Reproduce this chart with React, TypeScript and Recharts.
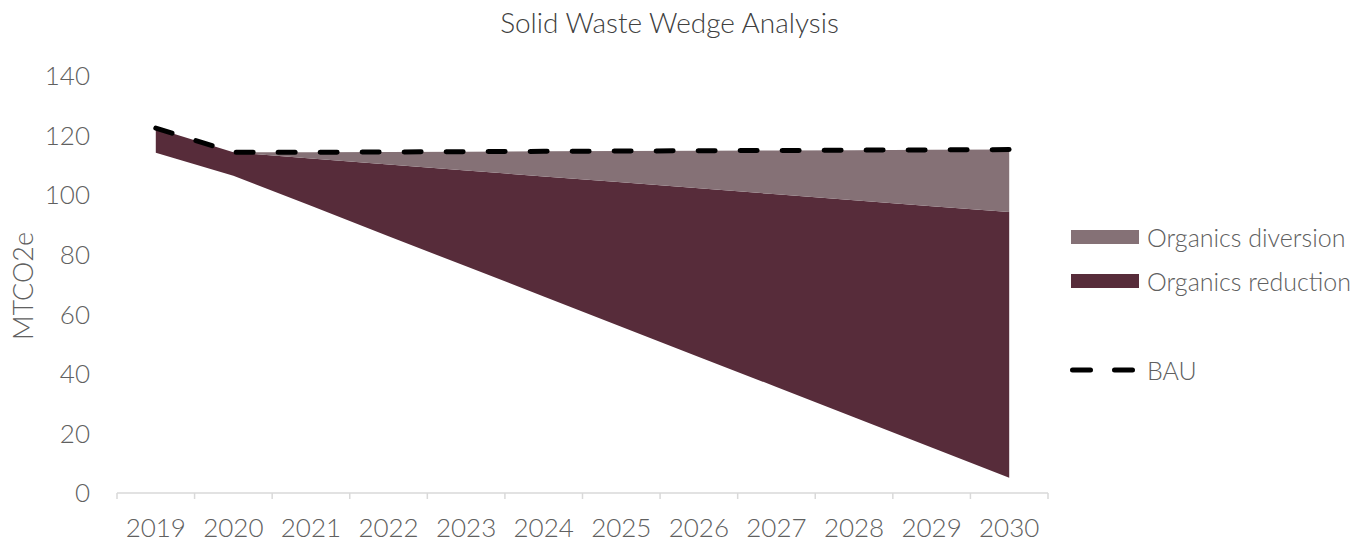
import React from 'react'
import { ComposedChart, Area, Line, XAxis, YAxis, Label } from 'recharts'

const years = ['2019', '2020', '2021', '2022', '2023', '2024', '2025', '2026', '2027', '2028', '2029', '2030']
// business-as-usual emissions (top of the wedge)
const bau = [122.5, 114.4, 114.4, 114.5, 114.6, 114.7, 114.8, 114.9, 115.0, 115.1, 115.2, 115.3]
// what is left after both measures (bottom of the wedge)
const remaining = [114.2, 106.5, 96.4, 86.2, 76.1, 66.0, 55.8, 45.7, 35.6, 25.4, 15.3, 5.1]
const diversion = [0, 0, 2.1, 4.2, 6.3, 8.4, 10.5, 12.6, 14.7, 16.8, 18.9, 21.0]
const yTicks = [0, 20, 40, 60, 80, 100, 120, 140]

const W = 1372
const H = 543
const PLOT_LEFT = 117
const PLOT_RIGHT = 1048
const PLOT_TOP = 76
const PLOT_BOTTOM = 493
const HALF_BAND = (PLOT_RIGHT - PLOT_LEFT) / years.length / 2

const FONT = 'Lato, "Open Sans", sans-serif'
const TEXT = '#606060'
const DARK = '#572c3a'
const LIGHT = '#857176'
const GRID = '#d9d9d9'

const data = years.map((year, i) => ({
  year,
  remaining: remaining[i],
  reduction: +(bau[i] - diversion[i] - remaining[i]).toFixed(2),
  diversion: diversion[i],
  bau: bau[i],
}))

const XTick = (props: any) => {
  const { x, y, payload, index } = props
  return (
    <g>
      <line x1={x - HALF_BAND} x2={x - HALF_BAND} y1={y} y2={y + 6} stroke={GRID} strokeWidth={1.5} />
      {index === years.length - 1 && (
        <line x1={x + HALF_BAND} x2={x + HALF_BAND} y1={y} y2={y + 6} stroke={GRID} strokeWidth={1.5} />
      )}
      <text x={x} y={y + 44} textAnchor="middle" fill={TEXT} fontSize={26} fontWeight={300} fontFamily={FONT}>
        {payload.value}
      </text>
    </g>
  )
}

const legendItems = [
  { label: 'Organics diversion', color: LIGHT, kind: 'box', top: 237 },
  { label: 'Organics reduction', color: DARK, kind: 'box', top: 281 },
  { label: 'BAU', color: '#000', kind: 'dash', top: 370 },
]

export default function App() {
  return (
    <div style={{ position: 'absolute', left: 0, top: 0, width: W, height: H, background: 'white', fontFamily: FONT, fontWeight: 300 }}>
      <div style={{ position: 'absolute', left: 0, top: 5, width: 1339, lineHeight: '34px', textAlign: 'center', fontSize: 28, color: '#404040' }}>
        Solid Waste Wedge Analysis
      </div>
      <ComposedChart
        width={W}
        height={H}
        data={data}
        margin={{ top: PLOT_TOP, right: W - PLOT_RIGHT, bottom: 0, left: PLOT_LEFT - 100 }}
      >
        <XAxis
          dataKey="year"
          interval={0}
          padding={{ left: HALF_BAND, right: HALF_BAND }}
          height={H - PLOT_BOTTOM}
          tickLine={false}
          tickSize={0}
          tickMargin={0}
          axisLine={{ stroke: GRID, strokeWidth: 1.5 }}
          tick={<XTick />}
        />
        <YAxis
          width={100}
          domain={[0, 140]}
          ticks={yTicks}
          axisLine={false}
          tickLine={false}
          tickSize={0}
          tickMargin={27}
          tick={{ fill: TEXT, fontSize: 26, fontWeight: 300, fontFamily: FONT }}
        >
          <Label
            content={() => (
              <text
                x={22}
                y={286}
                transform="rotate(-90 22 286)"
                textAnchor="middle"
                dominantBaseline="central"
                fill={TEXT}
                fontSize={27}
                fontWeight={300}
                fontFamily={FONT}
              >
                MTCO2e
              </text>
            )}
          />
        </YAxis>
        <Area dataKey="remaining" stackId="w" stroke="none" fill="none" isAnimationActive={false} />
        <Area dataKey="reduction" stackId="w" stroke="none" fill={DARK} fillOpacity={1} isAnimationActive={false} />
        <Area dataKey="diversion" stackId="w" stroke="none" fill={LIGHT} fillOpacity={1} isAnimationActive={false} />
        <Line
          dataKey="bau"
          stroke="#000"
          strokeWidth={5}
          strokeDasharray="17 25"
          strokeLinecap="round"
          dot={false}
          activeDot={false}
          isAnimationActive={false}
        />
      </ComposedChart>
      {legendItems.map((it) => (
        <div key={it.label} style={{ position: 'absolute', left: 1070, top: it.top - 16, height: 32, display: 'flex', alignItems: 'center' }}>
          <svg width={70} height={32} style={{ display: 'block' }}>
            {it.kind === 'box' ? (
              <rect x={1} y={9} width={68} height={14} fill={it.color} />
            ) : (
              <line x1={2.5} x2={66} y1={16} y2={16} stroke={it.color} strokeWidth={5} strokeDasharray="18 24" strokeLinecap="round" />
            )}
          </svg>
          <span style={{ marginLeft: 7, fontSize: 25, color: TEXT, lineHeight: '32px', whiteSpace: 'nowrap' }}>{it.label}</span>
        </div>
      ))}
    </div>
  )
}
